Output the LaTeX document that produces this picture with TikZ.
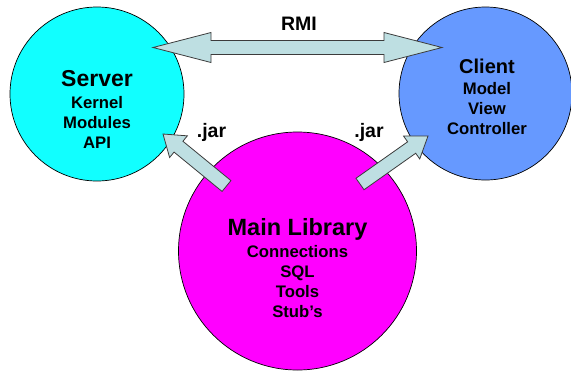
\documentclass[tikz,border=0pt]{standalone}
\usepackage{fontspec}
\setmainfont{Liberation Sans}
\usetikzlibrary{calc}

\definecolor{srvcyan}{RGB}{17,255,255}
\definecolor{clientblue}{RGB}{102,153,255}
\definecolor{libmagenta}{RGB}{255,0,255}
\definecolor{arrowfill}{RGB}{190,223,226}
\definecolor{arrowline}{RGB}{60,60,60}

\tikzset{
  blob/.style={circle, draw=black, line width=0.7pt, inner sep=0pt},
  blobtext/.style={align=center, inner sep=0pt, anchor=north,
    font=\bfseries\fontsize{16.7}{20}\selectfont},
  tag/.style={inner sep=0pt, anchor=base, font=\bfseries\fontsize{19.5}{20}\selectfont},
  blockarrow/.style={fill=arrowfill, draw=arrowline, line width=0.8pt},
}

% block arrow with one head: tail, tip
\newcommand\jararrow[2]{%
  \coordinate (hb) at ($(#2)!20pt!(#1)$);
  \draw[blockarrow] ($(#1)!7pt!90:(#2)$) -- ($(hb)!7pt!90:(#2)$) -- ($(hb)!14pt!90:(#2)$) -- (#2)
    -- ($(hb)!14pt!-90:(#2)$) -- ($(hb)!7pt!-90:(#2)$) -- ($(#1)!7pt!-90:(#2)$) -- cycle;
}
% block arrow with two heads: tip, tip
\newcommand\rmiarrow[2]{%
  \coordinate (ha) at ($(#1)!58pt!(#2)$);
  \coordinate (hb) at ($(#2)!58pt!(#1)$);
  \draw[blockarrow] (#1) -- ($(ha)!15pt!90:(#2)$) -- ($(ha)!7pt!90:(#2)$) -- ($(hb)!7pt!90:(#2)$)
    -- ($(hb)!15pt!90:(#2)$) -- (#2) -- ($(hb)!15pt!-90:(#2)$) -- ($(hb)!7pt!-90:(#2)$)
    -- ($(ha)!7pt!-90:(#2)$) -- ($(ha)!15pt!-90:(#2)$) -- cycle;
}

\begin{document}
\begin{tikzpicture}[x=1pt,y=-1pt]
    \useasboundingbox (0,0) rectangle (571,373);

    % the three parts
    \node[blob, fill=srvcyan, minimum size=174pt] (server) at (97,94) {};
    \node[blob, fill=clientblue, minimum size=173pt] (client) at (485.5,93.5) {};
    \node[blob, fill=libmagenta, minimum size=238pt] (lib) at (297.5,251) {};

    \node[blobtext] (servertext) at (97,70) {{\fontsize{23}{20}\selectfont Server}\\[2pt]Kernel\\Modules\\API};
    \node[blobtext] (clienttext) at (487,58.5) {{\fontsize{20}{20}\selectfont Client}\\[1pt]Model\\View\\Controller};
    \node[blobtext] (libtext) at (297.5,218.5) {{\fontsize{23.5}{20}\selectfont Main Library}\\[2pt]Connections\\SQL\\Tools\\Stub’s};

    % arrows between them
    \coordinate (rmiL) at (153,47.5);
    \coordinate (rmiR) at (442,47.5);
    \rmiarrow{rmiL}{rmiR}
    \node[tag] (rmi) at (299,30) {RMI};

    \coordinate (jarLtail) at (226.5,186);
    \coordinate (jarLtip) at (163,134);
    \coordinate (jarRtail) at (360,184);
    \coordinate (jarRtip) at (428,136);
    \jararrow{jarLtail}{jarLtip}
    \jararrow{jarRtail}{jarRtip}
    \node[tag] (jarL) at (211.5,137) {.jar};
    \node[tag] (jarR) at (369,137) {.jar};
\end{tikzpicture}
\end{document}
